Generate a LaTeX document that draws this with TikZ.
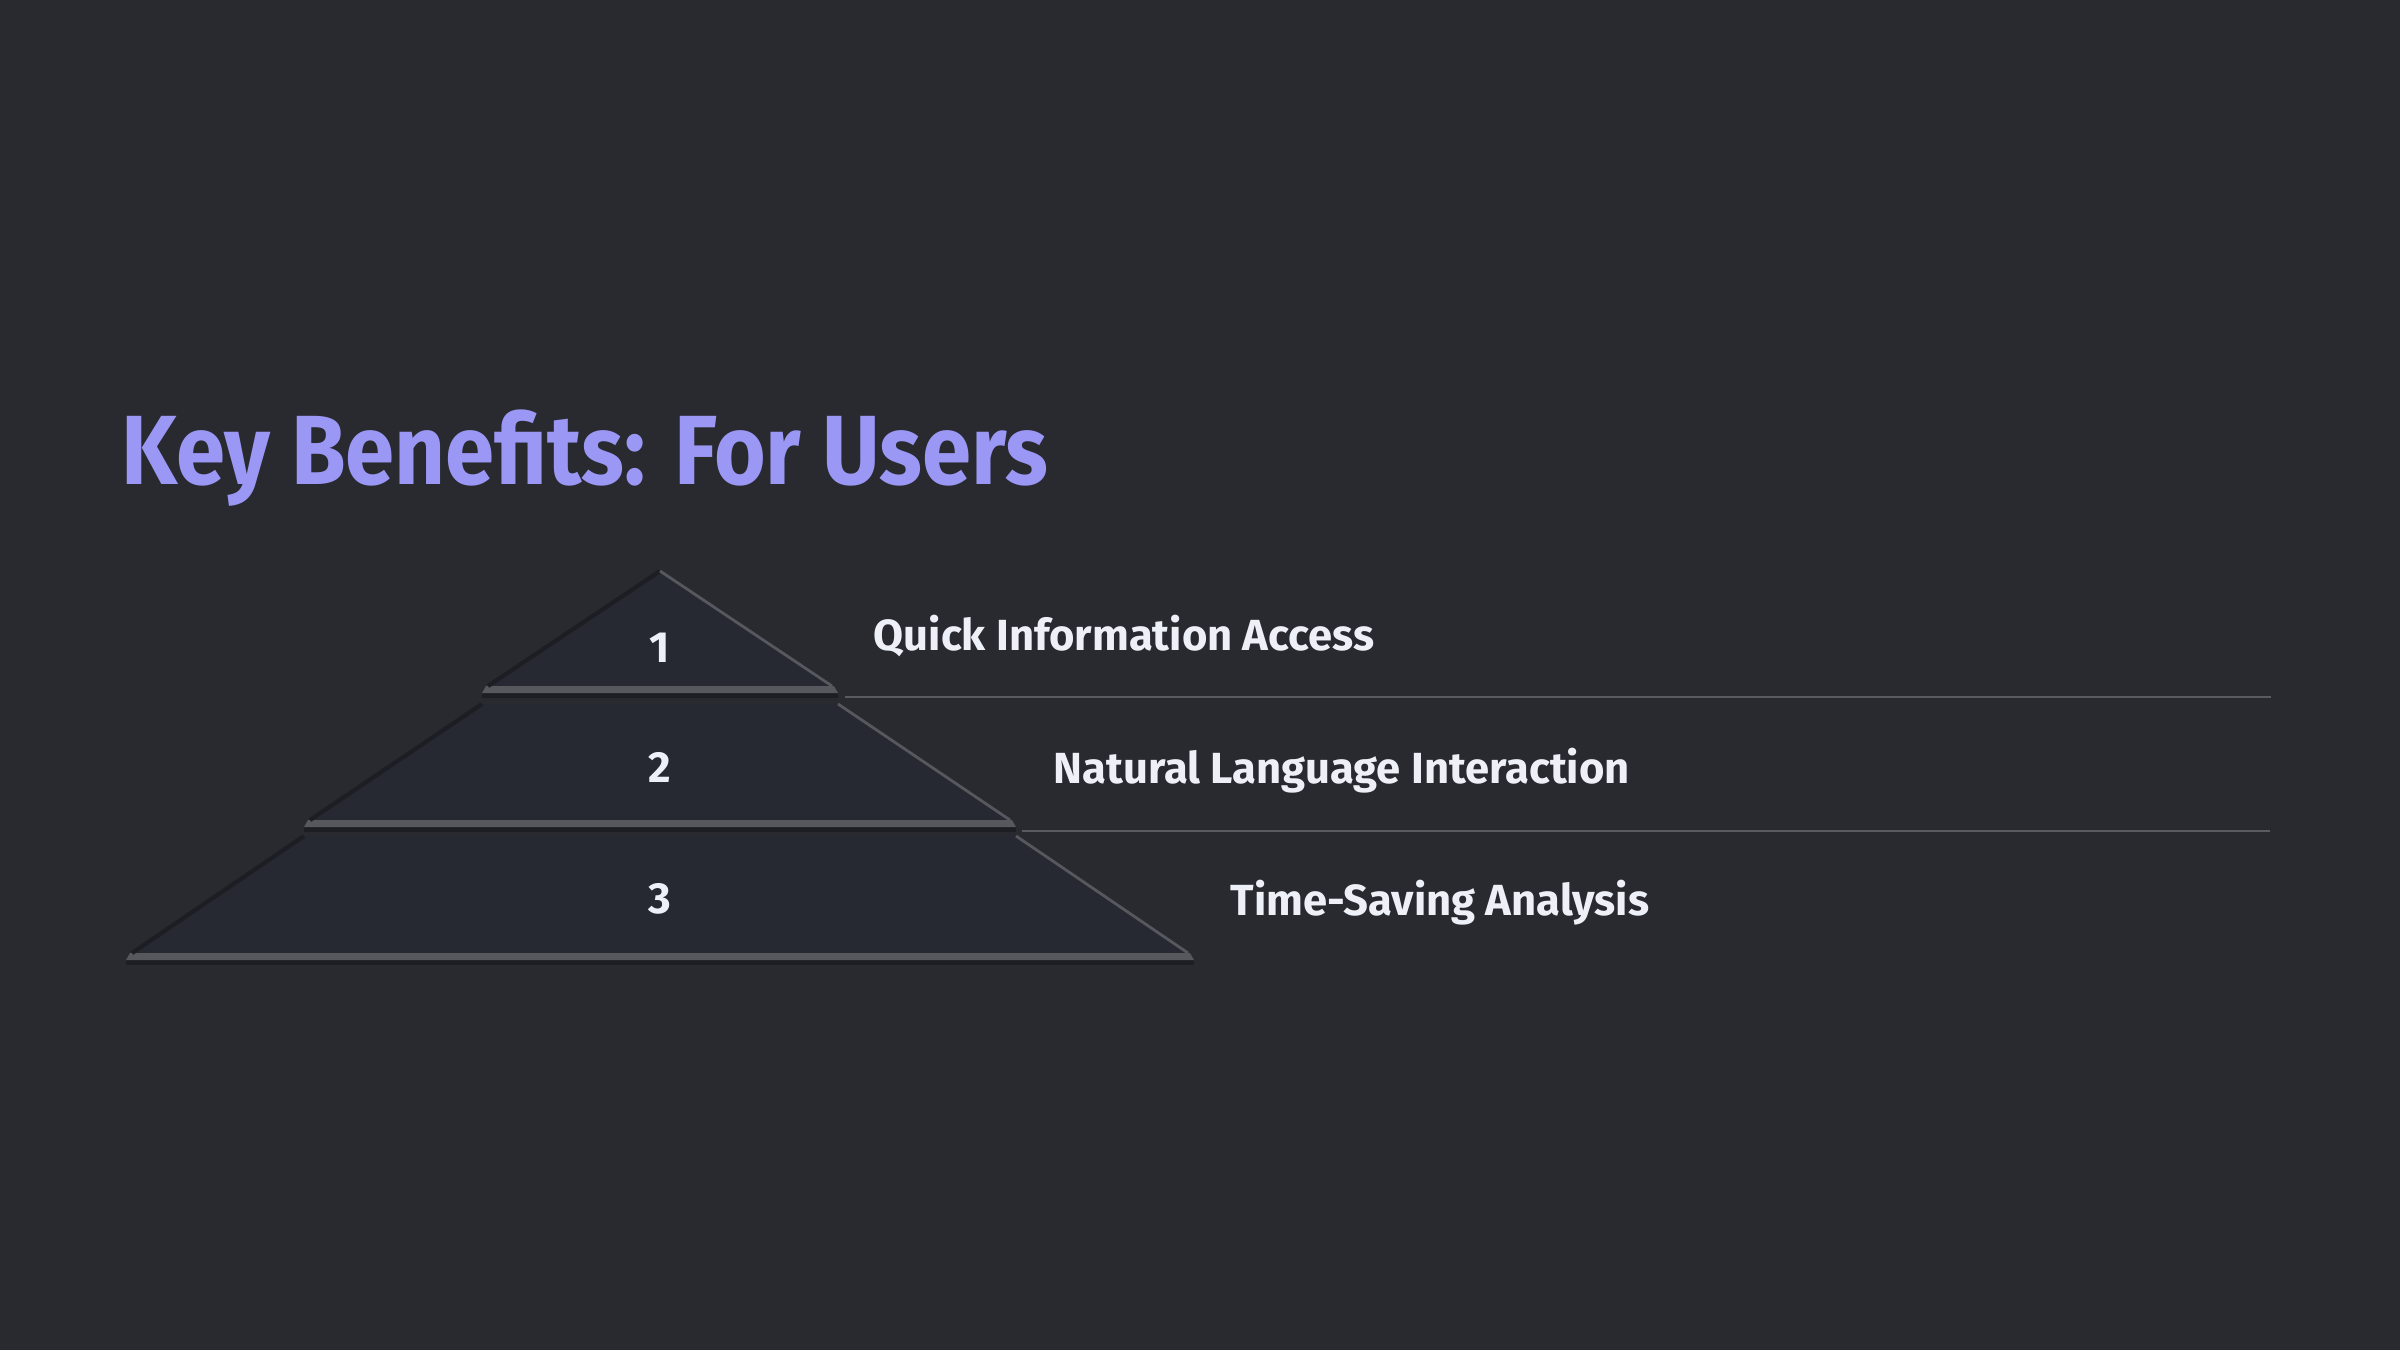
\documentclass[tikz,border=0pt]{standalone}
\usepackage{fontspec}
\setmainfont{Fira Sans}
\newfontfamily\titlefont{Fira Sans}[FakeStretch=0.9]
\definecolor{pagebg}{RGB}{40,42,48}
\definecolor{tierfill}{RGB}{38,41,50}
\definecolor{titleblue}{RGB}{155,152,245}
\definecolor{textwhite}{RGB}{238,240,248}
\definecolor{rulegray}{RGB}{88,91,98}
\definecolor{bevellight}{RGB}{86,88,94}
\definecolor{beveldark}{RGB}{28,30,35}
\tikzset{
  tier/.style={fill=tierfill},
  tiernum/.style={anchor=base, inner sep=0pt, text=textwhite, font=\bfseries\fontsize{12.4}{14}\selectfont},
  benefit/.style={anchor=base west, inner sep=0pt, text=textwhite, font=\bfseries\fontsize{12.4}{14}\selectfont},
  divider/.style={draw=rulegray, line width=0.55pt}
}
\begin{document}
\begin{tikzpicture}[x=0.1mm, y=-0.1mm]
		\fill[pagebg] (0,0) rectangle (2400,1350);
		\useasboundingbox (0,0) rectangle (2400,1350);
		
		\node[anchor=base west, inner sep=0pt, text=titleblue, font=\titlefont\bfseries\fontsize{28}{32}\selectfont] (title) at (121,484) {Key Benefits: For Users};
		
		% pyramid tiers
		\foreach \n/\yt/\yb/\yl in {1/571/693/662, 2/704/827/782, 3/836/960/913} {
			\pgfmathsetmacro{\wt}{(\n-1)*178}
			\pgfmathsetmacro{\wb}{\n*178}
			\fill[tier] (660-\wt,\yt) -- (660+\wt,\yt) -- (660+\wb,\yb) -- (660-\wb,\yb) -- cycle;
			\fill[beveldark] (660-\wb,\yb) rectangle (660+\wb,\yb+5);
			\fill[bevellight] (660-\wb+4,\yb-7) -- (660+\wb-4,\yb-7) -- (660+\wb,\yb) -- (660-\wb,\yb) -- cycle;
			\draw[beveldark, line width=1.2pt] (660-\wt,\yt) -- (660-\wb+6,\yb-7);
			\draw[bevellight, line width=0.8pt] (660+\wt,\yt) -- (660+\wb-6,\yb-7);
			\node[tiernum] (num\n) at (660,\yl) {\n};
		}
		
		\node[benefit] (quick) at (873,650) {Quick Information Access};
		\node[benefit] (natural) at (1053,783) {Natural Language Interaction};
		\node[benefit] (time) at (1230,915) {Time-Saving Analysis};
		
		\coordinate (rule1a) at (845,697);
		\coordinate (rule1b) at (2271,697);
		\coordinate (rule2a) at (1022,831);
		\coordinate (rule2b) at (2270,831);
		\path[divider] (rule1a) -- (rule1b);
		\path[divider] (rule2a) -- (rule2b);
\end{tikzpicture}
\end{document}
